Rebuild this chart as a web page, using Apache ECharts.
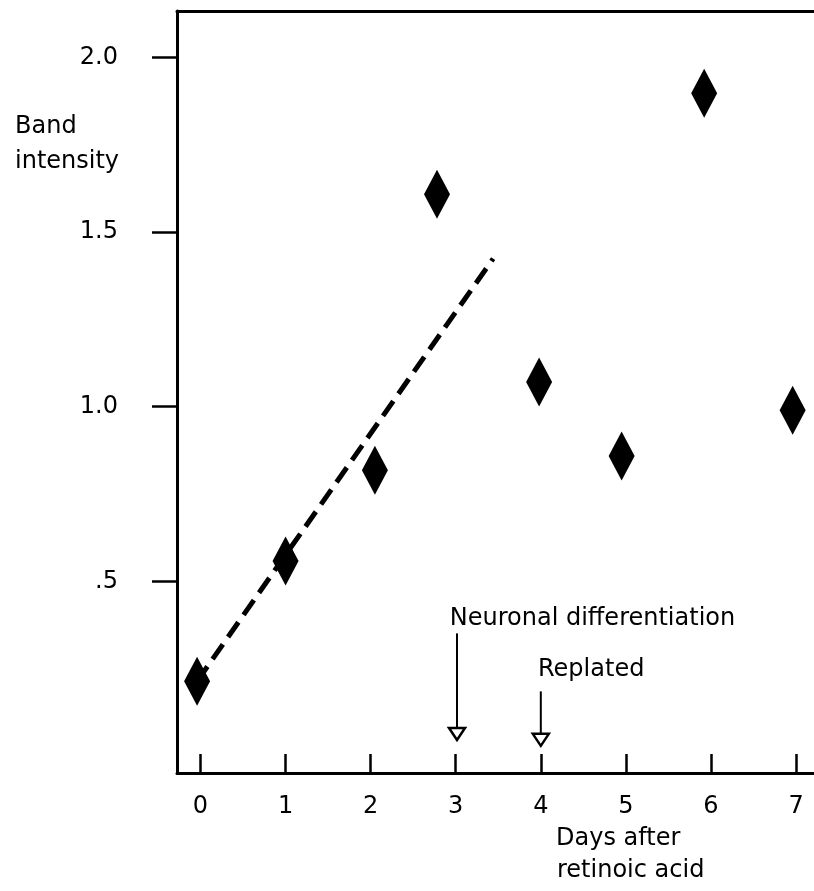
<!DOCTYPE html>
<html>
<head>
<meta charset="utf-8">
<script src="https://cdn.jsdelivr.net/npm/echarts@6/dist/echarts.min.js"></script>
<style>
  html, body { margin: 0; padding: 0; background: #fff; }
  #chart { width: 814px; height: 891px; }
</style>
</head>
<body>
<div id="chart"></div>
<script>
// measured values (days after retinoic acid vs band intensity)
const days = [-0.04, 1.0, 2.05, 2.78, 3.98, 4.95, 5.92, 6.96]
const bandIntensity = [0.214, 0.558, 0.818, 1.608, 1.071, 0.859, 1.897, 0.99]

// dashed trend line, two ends
const fitDays = [-0.04, 3.44]
const fitValues = [0.214, 1.424]

// tick positions / labels
const xTicks = [0, 1, 2, 3, 4, 5, 6, 7]
const yTicks = [0.5, 1.0, 1.5, 2.0]
const yTickLabels = ['.5', '1.0', '1.5', '2.0']

// event arrows
const noteNames = ['Neuronal differentiation', 'Replated']
const noteDays = [3.015, 4.0]
const noteArrowTop = [0.351, 0.185]
const noteArrowTip = [0.046, 0.029]
const noteTextDays = [2.93, 3.967]
const noteTextValues = [0.394, 0.246]

const FONT = '"DejaVu Sans", "Liberation Sans", Arial, sans-serif'

const chart = echarts.init(document.getElementById('chart'))

const xMin = -0.276, xMax = 7.211
const yMin = -0.0487, yMax = 2.1328

const axisLineStyle = { color: '#000', width: 3 }

chart.setOption({
    backgroundColor: '#fff',
    animation: false,
    grid: { left: 177, right: 0, top: 11, bottom: 118 },
    xAxis: [{
        type: 'value',
        min: xMin,
        max: xMax,
        axisLine: { show: true, onZero: false, lineStyle: axisLineStyle },
        axisTick: {
            show: true,
            inside: true,
            length: 19,
            customValues: xTicks,
            lineStyle: { color: '#000', width: 2.5 }
        },
        axisLabel: {
            customValues: xTicks,
            margin: 22,
            color: '#000',
            fontSize: 24,
            fontFamily: FONT
        },
        splitLine: { show: false }
    }, {
        // top frame line
        type: 'value',
        position: 'top',
        min: xMin,
        max: xMax,
        axisLine: { show: true, onZero: false, lineStyle: axisLineStyle },
        axisTick: { show: false },
        axisLabel: { show: false },
        splitLine: { show: false }
    }],
    yAxis: {
        type: 'value',
        min: yMin,
        max: yMax,
        axisLine: { show: true, onZero: false, lineStyle: axisLineStyle },
        axisTick: {
            show: true,
            length: 25,
            customValues: yTicks,
            lineStyle: { color: '#000', width: 2.5 }
        },
        axisLabel: {
            customValues: yTicks,
            margin: 59,
            color: '#000',
            fontSize: 24,
            fontFamily: FONT,
            formatter: (v) => {
                const i = yTicks.findIndex(t => Math.abs(t - v) < 1e-6)
                return i >= 0 ? yTickLabels[i] : ''
            }
        },
        splitLine: { show: false }
    },
    graphic: [
        { type: 'text', left: 15, top: 115, style: { text: 'Band', font: '24px ' + FONT, fill: '#000' } },
        { type: 'text', left: 15, top: 150, style: { text: 'intensity', font: '24px ' + FONT, fill: '#000' } },
        { type: 'text', left: 556, top: 827, style: { text: 'Days after', font: '24px ' + FONT, fill: '#000' } },
        { type: 'text', left: 557, top: 859, style: { text: 'retinoic acid', font: '24px ' + FONT, fill: '#000' } }
    ],
    series: [{
        type: 'line',
        data: fitDays.map((d, i) => [d, fitValues[i]]),
        symbol: 'none',
        lineStyle: { color: '#000', width: 5, type: [18, 9] },
        z: 2
    }, {
        type: 'scatter',
        data: days.map((d, i) => [d, bandIntensity[i]]),
        symbol: 'diamond',
        symbolSize: [26, 49],
        itemStyle: { color: '#000', opacity: 1 },
        z: 3
    }, {
        type: 'custom',
        data: noteNames.map((n, i) => [noteDays[i], noteArrowTop[i], noteArrowTip[i], noteTextDays[i], noteTextValues[i]]),
        renderItem: (params, api) => {
            const top = api.coord([api.value(0), api.value(1)])
            const tip = api.coord([api.value(0), api.value(2)])
            const txt = api.coord([api.value(3), api.value(4)])
            const hw = 8, hh = 12
            return {
                type: 'group',
                children: [{
                    type: 'line',
                    shape: { x1: top[0], y1: top[1], x2: tip[0], y2: tip[1] - hh },
                    style: { stroke: '#000', lineWidth: 2 }
                }, {
                    type: 'polygon',
                    shape: { points: [[tip[0] - hw, tip[1] - hh], [tip[0] + hw, tip[1] - hh], [tip[0], tip[1]]] },
                    style: { fill: '#fff', stroke: '#000', lineWidth: 2.5 }
                }, {
                    type: 'text',
                    x: txt[0],
                    y: txt[1],
                    style: {
                        text: noteNames[params.dataIndex],
                        font: '24px ' + FONT,
                        fill: '#000',
                        align: 'left',
                        verticalAlign: 'middle'
                    }
                }]
            }
        },
        z: 4
    }]
})
</script>
</body>
</html>
